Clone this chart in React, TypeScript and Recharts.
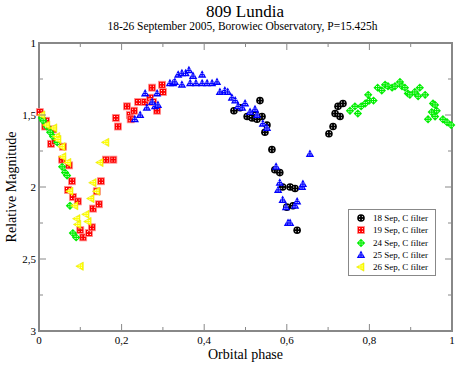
import React from 'react';
import { ScatterChart, Scatter, XAxis, YAxis, ReferenceArea, Legend } from 'recharts';

// [orbital phase, relative magnitude]
const sep18: [number, number][] = [
  [0.472, 1.47], [0.487, 1.45], [0.504, 1.51], [0.516, 1.52], [0.525, 1.5], [0.528, 1.53],
  [0.535, 1.4], [0.54, 1.51], [0.547, 1.62], [0.552, 1.57], [0.564, 1.74], [0.571, 1.88],
  [0.583, 1.9], [0.59, 2.0], [0.608, 2.0], [0.62, 2.01], [0.6, 2.14], [0.615, 2.13],
  [0.625, 2.3], [0.702, 1.63], [0.712, 1.58], [0.717, 1.49], [0.729, 1.51], [0.724, 1.44],
  [0.736, 1.42],
];

const sep19: [number, number][] = [
  [0.002, 1.48], [0.017, 1.54], [0.015, 1.58], [0.034, 1.6], [0.029, 1.7], [0.039, 1.68],
  [0.058, 1.72], [0.056, 1.81], [0.073, 1.85], [0.08, 1.96], [0.07, 2.02], [0.082, 2.07],
  [0.094, 2.1], [0.1, 2.3], [0.107, 2.35], [0.121, 2.32], [0.128, 2.28], [0.131, 2.15],
  [0.145, 2.12], [0.14, 2.03], [0.15, 1.96], [0.162, 1.81], [0.18, 1.81], [0.186, 1.52],
  [0.191, 1.58], [0.213, 1.44], [0.22, 1.5], [0.222, 1.53], [0.23, 1.47], [0.24, 1.41],
  [0.256, 1.41], [0.269, 1.38], [0.274, 1.31], [0.276, 1.41], [0.286, 1.47], [0.298, 1.29],
  [0.3, 1.34],
];

const sep24: [number, number][] = [
  [0.007, 1.52], [0.01, 1.54], [0.019, 1.58], [0.027, 1.62], [0.034, 1.65], [0.044, 1.69],
  [0.056, 1.86], [0.063, 1.9], [0.068, 1.92], [0.075, 2.13], [0.082, 2.32], [0.09, 2.35],
  [0.753, 1.47], [0.765, 1.44], [0.772, 1.49], [0.78, 1.44], [0.79, 1.42], [0.797, 1.36],
  [0.8, 1.4], [0.81, 1.4], [0.82, 1.31], [0.83, 1.33], [0.838, 1.29], [0.845, 1.3],
  [0.855, 1.31], [0.862, 1.3], [0.874, 1.27], [0.879, 1.3], [0.886, 1.31], [0.893, 1.35],
  [0.898, 1.36], [0.91, 1.34], [0.922, 1.31], [0.918, 1.37], [0.935, 1.36], [0.954, 1.42],
  [0.959, 1.43], [0.951, 1.48], [0.963, 1.47], [0.942, 1.53], [0.959, 1.51], [0.978, 1.53],
  [0.988, 1.55], [0.998, 1.57],
];

const sep25: [number, number][] = [
  [0.232, 1.53], [0.245, 1.5], [0.257, 1.35], [0.261, 1.45], [0.274, 1.41], [0.281, 1.44],
  [0.286, 1.35], [0.288, 1.43], [0.317, 1.28], [0.325, 1.28], [0.329, 1.27], [0.337, 1.22],
  [0.346, 1.21], [0.346, 1.29], [0.355, 1.21], [0.363, 1.19], [0.366, 1.28], [0.373, 1.23],
  [0.38, 1.28], [0.395, 1.22], [0.395, 1.28], [0.407, 1.28], [0.419, 1.28], [0.431, 1.27],
  [0.438, 1.34], [0.45, 1.33], [0.457, 1.34], [0.467, 1.38], [0.475, 1.4], [0.482, 1.44],
  [0.492, 1.45], [0.499, 1.42], [0.511, 1.48], [0.523, 1.46], [0.528, 1.5], [0.542, 1.56],
  [0.552, 1.59], [0.574, 1.86], [0.583, 1.97], [0.579, 2.02], [0.59, 2.09], [0.598, 2.14],
  [0.603, 2.25], [0.608, 2.25], [0.62, 2.13], [0.625, 2.1], [0.637, 2.0], [0.639, 1.98],
  [0.656, 1.77],
];

const sep26: [number, number][] = [
  [0.007, 1.5], [0.019, 1.57], [0.036, 1.59], [0.043, 1.65], [0.046, 1.67], [0.056, 1.72],
  [0.058, 1.79], [0.07, 1.83], [0.075, 2.03], [0.087, 2.13], [0.092, 2.22], [0.094, 2.26],
  [0.1, 2.55], [0.114, 2.19], [0.119, 2.24], [0.126, 2.08], [0.131, 1.97], [0.14, 2.03],
  [0.148, 1.83], [0.162, 1.69],
];

const xTicks = [0, 0.1, 0.2, 0.3, 0.4, 0.5, 0.6, 0.7, 0.8, 0.9, 1];
const yTicks = [1, 1.25, 1.5, 1.75, 2, 2.25, 2.5, 2.75, 3];

const SERIES = [
  { name: '18 Sep, C filter', kind: 'circle', color: '#000000', data: sep18 },
  { name: '19 Sep, C filter', kind: 'square', color: '#ff0000', data: sep19 },
  { name: '24 Sep, C filter', kind: 'diamond', color: '#00ee00', data: sep24 },
  { name: '25 Sep, C filter', kind: 'triangle', color: '#0000ff', data: sep25 },
  { name: '26 Sep, C filter', kind: 'left', color: '#ffff00', data: sep26 },
];

const SERIF = '"Liberation Serif", "DejaVu Serif", serif';
const AXIS = '#888888';
const PLOT_TOP = 43;
const PLOT_RIGHT = 452;

const fmt = (v: number) => String(v).replace('.', ',');

const Marker = ({ kind, color, cx, cy }: any) => {
  let body;
  if (kind === 'circle') body = <circle cx={cx} cy={cy} r={3.8} fill={color} />;
  else if (kind === 'square') body = <rect x={cx - 3.5} y={cy - 3.5} width={7} height={7} fill={color} stroke="#ff9090" strokeWidth={0.8} />;
  else if (kind === 'diamond') body = <polygon points={`${cx},${cy - 4.2} ${cx + 4.2},${cy} ${cx},${cy + 4.2} ${cx - 4.2},${cy}`} fill={color} />;
  else if (kind === 'triangle') body = <polygon points={`${cx},${cy - 4.5} ${cx + 4.2},${cy + 3} ${cx - 4.2},${cy + 3}`} fill={color} />;
  else body = <polygon points={`${cx - 4.5},${cy} ${cx + 3},${cy - 4.2} ${cx + 3},${cy + 4.2}`} fill={color} stroke="#e0e000" strokeWidth={0.5} />;
  const d = kind === 'square' || kind === 'circle' ? 1.4 : 1.1;
  return (
    <g>
      {body}
      <g fill="#ffffff">
        <rect x={cx - d - 0.5} y={cy - d - 0.5} width={1} height={1} />
        <rect x={cx + d - 0.5} y={cy - d - 0.5} width={1} height={1} />
        <rect x={cx - d - 0.5} y={cy + d - 0.5} width={1} height={1} />
        <rect x={cx + d - 0.5} y={cy + d - 0.5} width={1} height={1} />
      </g>
    </g>
  );
};

const XTick = ({ x, y, payload }: any) => {
  const v = payload.value;
  const major = Math.round(v * 10) % 2 === 0;
  const len = major ? 7 : 4;
  return (
    <g>
      <line x1={x} y1={y} x2={x} y2={y - len} stroke={AXIS} strokeWidth={1} />
      <line x1={x} y1={PLOT_TOP} x2={x} y2={PLOT_TOP + len} stroke={AXIS} strokeWidth={1} />
      {major && (
        <text x={x} y={y + 13} textAnchor="middle" fontFamily={SERIF} fontSize={11} fill="#000">
          {fmt(v)}
        </text>
      )}
    </g>
  );
};

const YTick = ({ x, y, payload }: any) => {
  const v = payload.value;
  const major = Math.round(v * 4) % 2 === 0;
  const len = major ? 7 : 4;
  return (
    <g>
      <line x1={x} y1={y} x2={x + len} y2={y} stroke={AXIS} strokeWidth={1} />
      <line x1={PLOT_RIGHT} y1={y} x2={PLOT_RIGHT - len} y2={y} stroke={AXIS} strokeWidth={1} />
      {major && (
        <text x={x - 3} y={y + 4} textAnchor="end" fontFamily={SERIF} fontSize={11} fill="#000">
          {fmt(v)}
        </text>
      )}
    </g>
  );
};

const LegendBox = () => (
  <div
    style={{
      border: '1px solid #888',
      background: '#fff',
      padding: '2px 4px 2px 6px',
      fontFamily: SERIF,
      fontSize: 9,
      width: 76,
    }}
  >
    {SERIES.map((s) => (
      <div key={s.name} style={{ display: 'flex', alignItems: 'center', height: 12.3 }}>
        <svg width={12} height={10} style={{ marginRight: 6 }}>
          <Marker kind={s.kind} color={s.color} cx={6} cy={5} />
        </svg>
        <span style={{ whiteSpace: 'nowrap' }}>{s.name}</span>
      </div>
    ))}
  </div>
);

export default function App() {
  return (
    <div style={{ position: 'absolute', left: 0, top: 0, width: 469, height: 370, background: '#fff' }}>
      <div style={{ position: 'absolute', left: 0, width: 490, top: 4, textAlign: 'center', fontFamily: SERIF, fontSize: 17, lineHeight: '16px' }}>
        809 Lundia
      </div>
      <div style={{ position: 'absolute', left: 0, width: 485, top: 21, textAlign: 'center', fontFamily: SERIF, fontSize: 11.5, lineHeight: '10px' }}>
        18-26 September 2005, Borowiec Observatory, P=15.425h
      </div>
      <ScatterChart width={469} height={370} margin={{ top: 43, right: 17, bottom: 0, left: 9 }}>
        <XAxis
          type="number"
          dataKey="phase"
          domain={[0, 1]}
          ticks={xTicks}
          interval={0}
          height={39}
          tickSize={0}
          tickMargin={0}
          tickLine={false}
          tick={<XTick />}
          axisLine={{ stroke: AXIS, strokeWidth: 2 }}
          label={{ value: 'Orbital phase', position: 'insideBottom', offset: 11, fontFamily: SERIF, fontSize: 14, fill: '#000' }}
        />
        <YAxis
          type="number"
          dataKey="mag"
          domain={[1, 3]}
          reversed
          ticks={yTicks}
          interval={0}
          width={30}
          tickSize={0}
          tickMargin={0}
          tickLine={false}
          tick={<YTick />}
          axisLine={{ stroke: AXIS, strokeWidth: 2 }}
          label={{
            value: 'Relative Magnitude',
            angle: -90,
            position: 'insideLeft',
            offset: 2,
            fontFamily: SERIF,
            fontSize: 14,
            fill: '#000',
            style: { textAnchor: 'middle' },
          }}
        />
        <ReferenceArea x1={0} x2={1} y1={1} y2={3} fill="none" stroke={AXIS} strokeWidth={2} ifOverflow="visible" />
        {SERIES.map((s) => (
          <Scatter
            key={s.name}
            name={s.name}
            data={s.data.map(([phase, mag]) => ({ phase, mag }))}
            isAnimationActive={false}
            shape={(p: any) => <Marker kind={s.kind} color={s.color} cx={p.cx} cy={p.cy} />}
          />
        ))}
        <Legend
          layout="vertical"
          align="center"
          verticalAlign="middle"
          content={() => <LegendBox />}
          wrapperStyle={{ left: 348, top: 209, width: 'auto' }}
        />
      </ScatterChart>
    </div>
  );
}
